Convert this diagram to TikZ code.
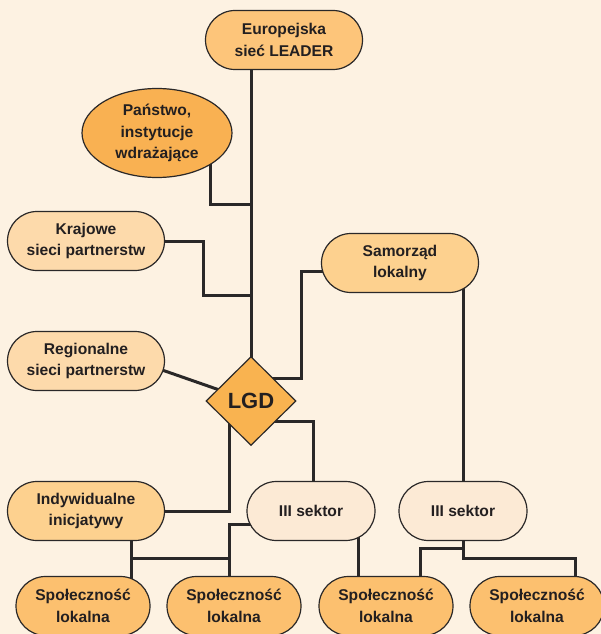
\documentclass[tikz,border=0pt]{standalone}
\usepackage{fontspec}
\setmainfont{Liberation Sans}
\usetikzlibrary{shapes.geometric,backgrounds}
\definecolor{lgdpaper}{HTML}{FDF2E2}
\definecolor{lgdline}{HTML}{2A2828}
\definecolor{lgdtext}{HTML}{231F20}
\definecolor{lgdeuro}{HTML}{FDC57A}
\definecolor{lgdstate}{HTML}{F9B152}
\definecolor{lgdnet}{HTML}{FDDAAB}
\definecolor{lgdlocal}{HTML}{FDD18F}
\definecolor{lgdthird}{HTML}{FCEAD5}
\definecolor{lgdcomm}{HTML}{FCC06F}
\definecolor{lgdcore}{HTML}{F9B350}
\tikzset{
  lgd box/.style={
    rectangle,rounded corners=29.5pt,draw=lgdline,line width=1.2pt,
    minimum width=157pt,minimum height=59pt,inner sep=0pt,align=center,
    text=lgdtext,font=\fontsize{15.6}{21.5}\selectfont\bfseries
  },
  lgd comm/.style={lgd box,fill=lgdcomm,minimum width=134pt},
  lgd oval/.style={
    ellipse,draw=lgdline,line width=1.2pt,fill=lgdstate,
    minimum width=150pt,minimum height=89pt,inner sep=0pt,align=center,
    text=lgdtext,font=\fontsize{15.6}{21.5}\selectfont\bfseries
  },
  lgd core/.style={
    diamond,draw=lgdline,line width=1.2pt,fill=lgdcore,
    minimum width=90pt,minimum height=89pt,inner sep=0pt,
    text=lgdtext,font=\fontsize{22}{24}\selectfont\bfseries
  },
  lgd link/.style={lgdline,line width=3pt}
}

\begin{document}
\begin{tikzpicture}[x=1pt,y=-1pt]
  \useasboundingbox (0,0) rectangle (601,634);
  \node[lgd box,fill=lgdeuro] (europa) at (284,40) {Europejska\\sieć LEADER};
  \node[lgd oval] (panstwo) at (157,133) {Państwo,\\instytucje\\wdrażające};
  \node[lgd box,fill=lgdnet] (krajowe) at (86,241) {Krajowe\\sieci partnerstw};
  \node[lgd box,fill=lgdnet] (regionalne) at (86,361) {Regionalne\\sieci partnerstw};
  \node[lgd box,fill=lgdlocal] (samorzad) at (400,263) {Samorząd\\lokalny};
  \node[lgd core] (lgd) at (251,401) {LGD};
  \node[lgd box,fill=lgdlocal] (indyw) at (86,511) {Indywidualne\\inicjatywy};
  \node[lgd box,fill=lgdthird,minimum width=128pt] (sektora) at (311,511) {III sektor};
  \node[lgd box,fill=lgdthird,minimum width=128pt] (sektorb) at (463,511) {III sektor};
  \node[lgd comm] (spola) at (83,606) {Społeczność\\lokalna};
  \node[lgd comm] (spolb) at (234,606) {Społeczność\\lokalna};
  \node[lgd comm] (spolc) at (386,606) {Społeczność\\lokalna};
  \node[lgd comm] (spold) at (537,606) {Społeczność\\lokalna};
  \coordinate (jpanstwo) at (251,204);
  \coordinate (jkraj) at (203,295);
  \coordinate (jsamo) at (301,378);
  \coordinate (jleft) at (131,558);
  \coordinate (jmid) at (229,558);
  \coordinate (jright) at (420,548);
  \coordinate (jfar) at (575,558);
  \begin{pgfonlayer}{background}
    \fill[lgdpaper] (0,0) rectangle (601,634);
    \draw[lgd link] (europa.center -| lgd.center) -- (lgd.center);
    \draw[lgd link] ([xshift=53pt]panstwo.center) |- (jpanstwo);
    \draw[lgd link] (krajowe.center) -| (jkraj) -- (jkraj -| lgd.center);
    \draw[lgd link] ([xshift=-3pt,yshift=-9pt]regionalne.east) -- (lgd.center);
    \draw[lgd link] ([yshift=-8pt]samorzad.center) -| (jsamo) -- (jsamo -| lgd.center);
    \draw[lgd link] (sektorb.center |- samorzad.center) -- (sektorb.center);
    \draw[lgd link] ([yshift=-20pt]lgd.center) -| ([xshift=2pt]sektora.center);
    \draw[lgd link] ([xshift=-22pt]lgd.center) |- (indyw.center);
    \draw[lgd link] ([xshift=45pt]indyw.center) |- (spola.center);
    \draw[lgd link] (jleft) -- (jmid);
    \draw[lgd link] ([yshift=-13pt]sektora.center) -| (jmid) |- (spolb.center);
    \draw[lgd link] ([xshift=47pt]sektora.center) |- (spolc.center);
    \draw[lgd link] (sektorb.center) |- (jright) |- (spolc.center);
    \draw[lgd link] (sektorb.center) |- (jfar) |- (spold.center);
  \end{pgfonlayer}
\end{tikzpicture}
\end{document}
